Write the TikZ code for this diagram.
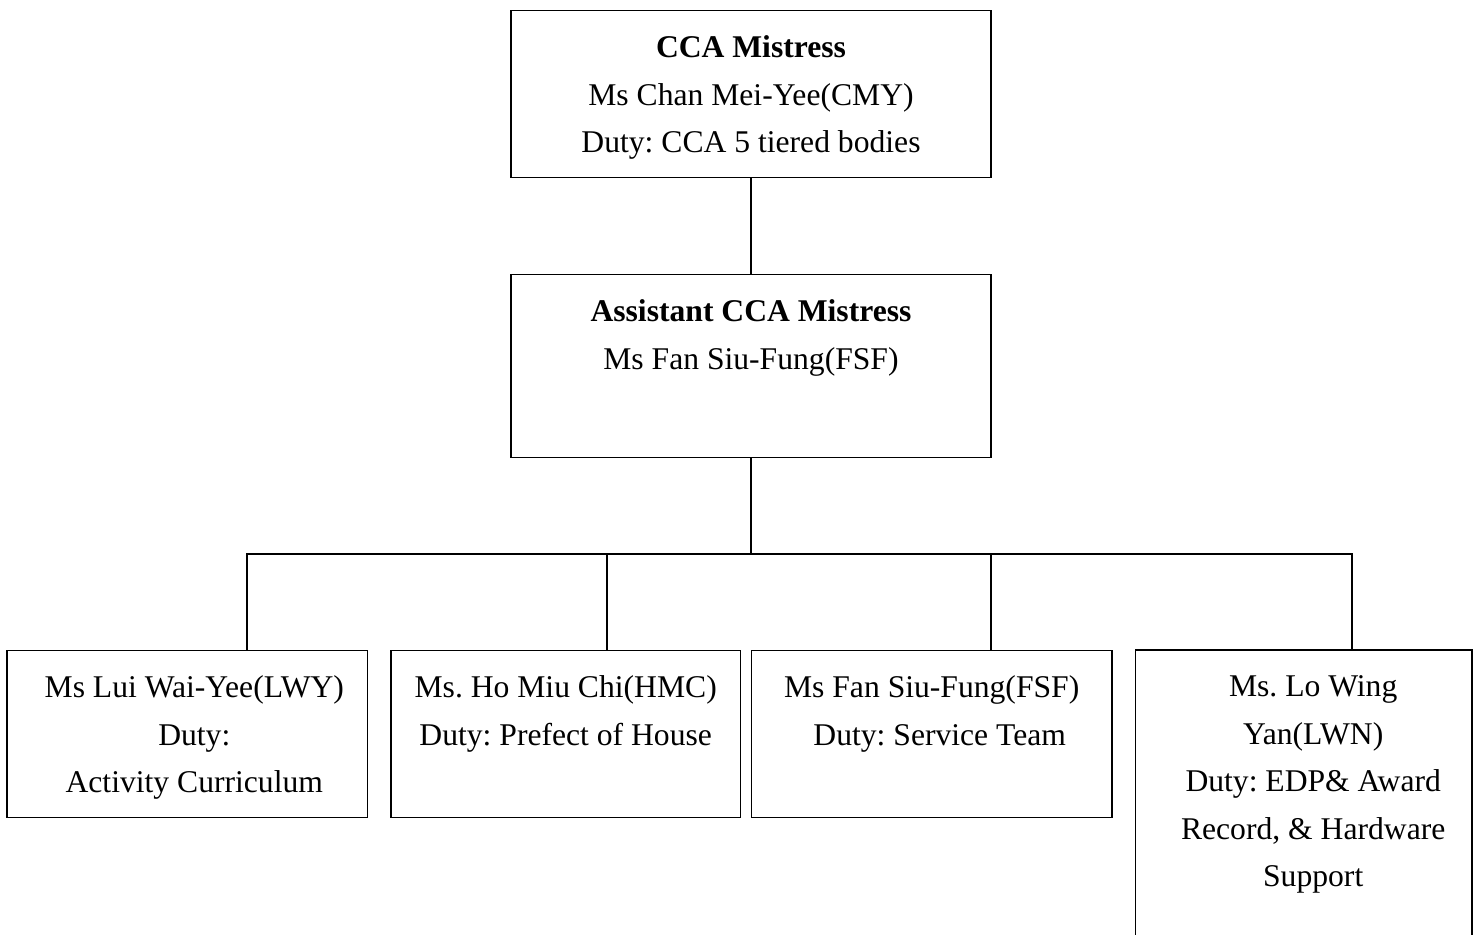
\documentclass[tikz,border=0pt]{standalone}
\usepackage{fontspec}
\setmainfont{Liberation Serif}
\frenchspacing
\usepackage{tikz}
\usetikzlibrary{positioning}

\begin{document}
\begin{tikzpicture}[x=0.02cm,y=-0.02cm,line width=1pt,
	box/.style={rectangle,draw,minimum height=3.34cm,inner sep=0pt},
	txt/.style={align=center,inner sep=0pt,font=\fontsize{18}{27}\selectfont}]

		\useasboundingbox (0,0) rectangle (1477,934);

		\node[box,minimum width=9.6cm] (cca) at (751,94) {};
		\node[box,minimum width=9.6cm,minimum height=3.66cm] (acca) at (751,366) {};

		\node[box,minimum width=7.21cm] (lwy) at (187.3,734) {};
		\node[box,minimum width=6.99cm] (hmc) at (565.7,734) {};
		\node[box,minimum width=7.21cm] (fsf) at (931.7,734) {};
		\node[box,minimum width=6.73cm,minimum height=5.99cm] (lwn) at (1303.7,800) {};

		\node[txt,below=0.51cm of cca.north] (cca-t) {\textbf{CCA Mistress}\\Ms Chan Mei-Yee(CMY)\\Duty: CCA 5 tiered bodies};
		\node[txt,below=0.51cm of acca.north] (acca-t) {\textbf{Assistant CCA Mistress}\\Ms Fan Siu-Fung(FSF)};
		\node[txt,below=0.51cm of lwy.north,xshift=0.14cm] (lwy-t) {Ms Lui Wai-Yee(LWY)\\Duty:\\Activity Curriculum};
		\node[txt,below=0.51cm of hmc.north] (hmc-t) {Ms. Ho Miu Chi(HMC)\\Duty: Prefect of House};
		\node[txt,below=0.51cm of fsf.north] (fsf-t) {Ms Fan Siu-Fung(FSF)\\\hspace*{0.32cm}Duty: Service Team};
		\node[txt,below=0.51cm of lwn.north,xshift=0.19cm] (lwn-t) {Ms. Lo Wing\\Yan(LWN)\\Duty: EDP\& Award\\Record, \& Hardware\\Support};

		\coordinate (bus) at (751,554);
		\coordinate (d1) at (247,554);
		\coordinate (d2) at (607,554);
		\coordinate (d3) at (991,554);
		\coordinate (d4) at (1352,554);

		\path[draw] (cca) -- (acca);
		\path[draw] (acca) -- (bus);
		\path[draw] (d1 |- lwy.north) -- (d1) -- (d4) -- (d4 |- lwn.north);
		\path[draw] (d2) -- (d2 |- hmc.north);
		\path[draw] (d3) -- (d3 |- fsf.north);

\end{tikzpicture}
\end{document}
